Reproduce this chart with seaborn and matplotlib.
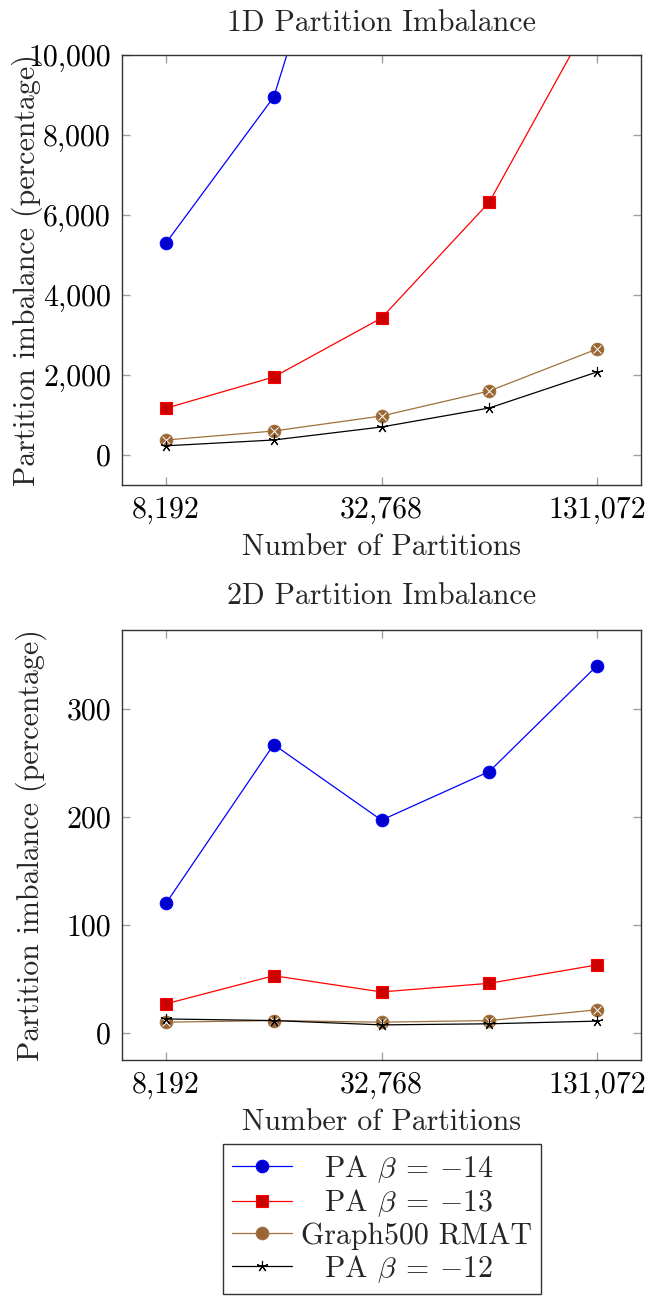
import numpy as np
import pandas as pd
import matplotlib
matplotlib.use("Agg")
import matplotlib.pyplot as plt
from matplotlib.ticker import FixedLocator, FuncFormatter
import seaborn as sns

partitions = [8192, 16384, 32768, 65536, 131072]
series_names = ["PA $\\beta\\:=\\:{-14}$", "PA $\\beta\\:=\\:{-13}$", "Graph500 RMAT", "PA $\\beta\\:=\\:{-12}$"]

imb_1d_pa14 = [5300, 8950, 17600, 30000, 52000]
imb_1d_pa13 = [1170, 1950, 3425, 6320, 11200]
imb_1d_g500 = [375, 600, 975, 1600, 2650]
imb_1d_pa12 = [230, 375, 700, 1175, 2075]

imb_2d_pa14 = [120, 267, 197, 242, 340]
imb_2d_pa13 = [27, 53, 38, 46, 63]
imb_2d_g500 = [10, 11.5, 10, 11.5, 21.5]
imb_2d_pa12 = [13, 11.5, 7.5, 8.5, 11]

sns.set_style("ticks")
plt.rcParams["font.family"] = ["cmr10", "DejaVu Serif"]
plt.rcParams["mathtext.fontset"] = "cm"
plt.rcParams["axes.formatter.use_mathtext"] = True
plt.rcParams["axes.unicode_minus"] = True

FS = 21.5
line_colors = ["#0000ff", "#ff0000", "#a0703c", "#000000"]
face_colors = ["#0000cc", "#cc0000", "#996633", "#000000"]
markers = ["o", "s", "o", (5, 2, 0)]
msizes = [9, 9, 9, 8]

def make_df(vals):
    rows = []
    for name, v in zip(series_names, vals):
        for p, y in zip(partitions, v):
            rows.append({"Partitions": p, "Imbalance": y, "Series": name})
    return pd.DataFrame(rows)

df1 = make_df([imb_1d_pa14, imb_1d_pa13, imb_1d_g500, imb_1d_pa12])
df2 = make_df([imb_2d_pa14, imb_2d_pa13, imb_2d_g500, imb_2d_pa12])

fig = plt.figure(figsize=(6.51, 13.04), dpi=100)
W, H = 651, 1304
ax1 = fig.add_axes([122 / W, 1 - 485 / H, 519 / W, 430 / H])
ax2 = fig.add_axes([122 / W, 1 - 1060 / H, 519 / W, 430 / H])

for ax, df in [(ax1, df1), (ax2, df2)]:
    for i, name in enumerate(series_names):
        sub = df[df["Series"] == name]
        sns.lineplot(data=sub, x="Partitions", y="Imbalance", ax=ax,
                     color=line_colors[i], marker=markers[i], markersize=msizes[i],
                     markerfacecolor=face_colors[i],
                     markeredgecolor=line_colors[i] if i < 3 else "#000000",
                     markeredgewidth=0.8,
                     linewidth=0.9, label=name, legend=False)
        if i == 2:
            sns.lineplot(data=sub, x="Partitions", y="Imbalance", ax=ax,
                         color="#6b4420", marker="x", markersize=5.5,
                         markeredgewidth=0.7, linewidth=0, legend=False)
    ax.set_xscale("log", base=2)
    ax.set_xlim(2 ** 12.592, 2 ** 17.408)
    ax.xaxis.set_major_locator(FixedLocator([8192, 32768, 131072]))
    ax.xaxis.set_minor_locator(FixedLocator([]))
    ax.xaxis.set_major_formatter(FuncFormatter(lambda v, p: f"{int(round(v)):,}"))
    ax.yaxis.set_major_formatter(FuncFormatter(lambda v, p: f"{int(round(v)):,}"))
    ax.tick_params(axis="both", which="major", direction="in", length=6,
                   width=1.0, color="#a0a0a0", labelsize=FS, pad=8,
                   top=True, right=True, labelcolor="black")
    for s in ax.spines.values():
        s.set_color("#333333")
        s.set_linewidth(1.0)
    ax.set_xlabel("Number of Partitions", fontsize=FS)
    ax.set_ylabel("Partition imbalance (percentage)", fontsize=FS)
    ax.xaxis.set_label_coords(0.5, -0.112)
    ax.grid(False)

ax1.set_ylim(-750, 10000)
ax1.yaxis.set_major_locator(FixedLocator([0, 2000, 4000, 6000, 8000, 10000]))
ax1.set_title("1D Partition Imbalance", fontsize=FS, pad=17)
ax1.yaxis.set_label_coords(-0.152, 0.5)

ax2.set_ylim(-25, 373)
ax2.yaxis.set_major_locator(FixedLocator([0, 100, 200, 300]))
ax2.set_title("2D Partition Imbalance", fontsize=FS, pad=19)
ax2.yaxis.set_label_coords(-0.145, 0.5)

h, l = ax2.get_legend_handles_labels()
h = [h[0], h[1], h[2], h[4]] if len(h) > 4 else h
pad = "$\\hspace{0.9}$"
labels = [pad + series_names[0], pad + series_names[1], series_names[2], pad + series_names[3]]
leg = fig.legend(h, labels, loc="upper center", bbox_to_anchor=(382 / W, 1 - 1144 / H),
                 fontsize=FS, frameon=True, fancybox=False, edgecolor="black",
                 handlelength=2.0, handletextpad=0.3, labelspacing=0.1,
                 borderpad=0.3, borderaxespad=0)
leg.get_frame().set_linewidth(1.0)

fig.savefig("out.png", dpi=100)
